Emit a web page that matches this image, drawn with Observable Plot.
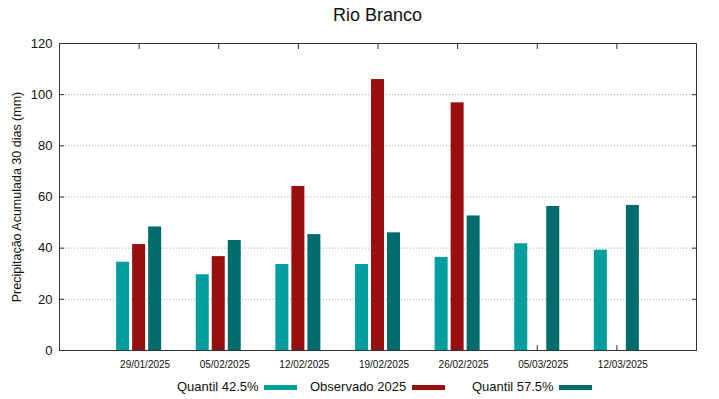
<!DOCTYPE html>
<html>
<head>
<meta charset="utf-8">
<script src="https://cdn.jsdelivr.net/npm/d3@7"></script>
<script src="https://cdn.jsdelivr.net/npm/@observablehq/plot@0.6"></script>
<style>
  body { margin: 0; background: #fff; font-family: "Liberation Sans", Arial, sans-serif; }
  #wrap { position: relative; width: 719px; height: 399px; overflow: hidden; }
  #title { position: absolute; left: 59px; width: 637px; top: 5px; text-align: center; font-size: 18px; color: #111; }
  #chart { position: absolute; left: 0; top: 30px; }
  #legend { position: absolute; left: 0; top: 378px; width: 719px; height: 20px; font-size: 13px; color: #111; }
  .item { position: absolute; top: 0; white-space: nowrap; line-height: 18px; }
  .sw { position: absolute; top: 7px; width: 33px; height: 5px; }
</style>
</head>
<body>
<div id="wrap">
  <div id="title">Rio Branco</div>
  <div id="chart"></div>
  <div id="legend"></div>
</div>
<script>
const dates = ["29/01/2025", "05/02/2025", "12/02/2025", "19/02/2025", "26/02/2025", "05/03/2025", "12/03/2025"];
const q425 = [34.5, 29.6, 33.6, 33.6, 36.4, 41.7, 39.2];
const obs = [41.4, 36.7, 64.1, 105.9, 96.8, null, null];
const q575 = [48.3, 43.0, 45.3, 46.0, 52.6, 56.3, 56.7];
const seriesNames = ["Quantil 42.5%", "Observado 2025", "Quantil 57.5%"];
const colors = ["#009e9e", "#990f0f", "#006b6b"];
const yTicks = [0, 20, 40, 60, 80, 100, 120];
const yLabel = "Precipitação Acumulada 30 dias (mm)";

const seriesValues = [q425, obs, q575];
const rows = [];
seriesValues.forEach((vals, s) => {
  vals.forEach((v, i) => {
    if (v != null) rows.push({pos: i + 1, s, name: seriesNames[s], v});
  });
});
const offset = 0.201, half = 0.0817;
const xTicks = dates.map((d, i) => i + 1);

const plot = Plot.plot({
  width: 719,
  height: 345,
  marginLeft: 59,
  marginRight: 23,
  marginTop: 13,
  marginBottom: 25,
  x: {domain: [0, 8], axis: null},
  y: {domain: [0, 120], axis: null},
  color: {domain: seriesNames, range: colors},
  style: {fontFamily: "Liberation Sans, Arial, sans-serif", color: "#111"},
  marks: [
    Plot.ruleY(yTicks.slice(1, -1), {stroke: "#999", strokeWidth: 0.8, strokeDasharray: "1,2"}),
    Plot.rectY(rows, {
      x1: d => d.pos + (d.s - 1) * offset - half,
      x2: d => d.pos + (d.s - 1) * offset + half,
      y1: 0,
      y2: "v",
      fill: "name"
    }),
    Plot.frame({stroke: "#333", strokeWidth: 1}),
    Plot.axisY({ticks: yTicks, tickSize: 0, tickPadding: 7, fontSize: 13, label: null}),
    Plot.axisY({ticks: yTicks, tickSize: 5, tickFormat: () => "", dx: 5, label: null, stroke: "#333"}),
    Plot.axisY({anchor: "right", ticks: yTicks, tickSize: 5, tickFormat: () => "", dx: -5, label: null, stroke: "#333"}),
    Plot.axisX({ticks: xTicks, tickFormat: i => dates[i - 1], tickSize: 0, tickPadding: 10, fontSize: 10, dx: 6, label: null}),
    Plot.axisX({ticks: xTicks, tickSize: 5, tickFormat: () => "", dy: -5, label: null, stroke: "#333"}),
    Plot.axisX({anchor: "top", ticks: xTicks, tickSize: 5, tickFormat: () => "", dy: 5, label: null, stroke: "#333"}),
    Plot.text([yLabel], {
      frameAnchor: "left", dx: -43, rotate: -90, text: d => d, fontSize: 12.5, textAnchor: "middle"
    })
  ]
});
document.getElementById("chart").appendChild(plot);

const legend = document.getElementById("legend");
const textLefts = [177, 310, 472];
const swLefts = [264, 412, 559];
seriesNames.forEach((n, i) => {
  const t = document.createElement("div");
  t.className = "item";
  t.style.left = textLefts[i] + "px";
  t.textContent = n;
  legend.appendChild(t);
  const sw = document.createElement("div");
  sw.className = "sw";
  sw.style.left = swLefts[i] + "px";
  sw.style.background = colors[i];
  legend.appendChild(sw);
});
</script>
</body>
</html>
